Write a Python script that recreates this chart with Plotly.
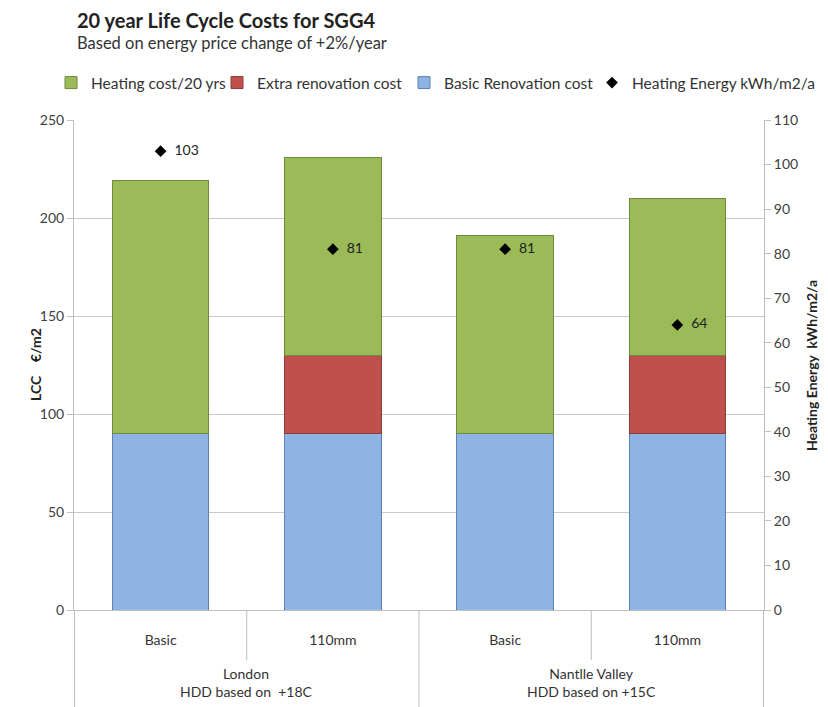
import plotly.graph_objects as go

groups = ["London<br>HDD based on  +18C", "London<br>HDD based on  +18C",
          "Nantlle Valley<br>HDD based on +15C", "Nantlle Valley<br>HDD based on +15C"]
variants = ["Basic", "110mm", "Basic", "110mm"]
basic_cost = [90, 90, 90, 90]
extra_cost = [None, 40, None, 40]
heating_cost = [129, 101, 101, 80]
heating_energy = [103, 81, 81, 64]

FONT = "Lato, 'Open Sans', sans-serif"
keys = [f"{g} | {v}" for g, v in zip(groups, variants)]

fig = go.Figure()
fig.add_trace(go.Bar(x=keys, y=basic_cost, name="Basic Renovation cost", legend="legend3",
                     marker=dict(color="#8DB4E2", line=dict(color="#5E82AE", width=1))))
fig.add_trace(go.Bar(x=keys, y=extra_cost, name="Extra renovation cost", legend="legend2",
                     marker=dict(color="#C0504D", line=dict(color="#8E3A38", width=1))))
fig.add_trace(go.Bar(x=keys, y=heating_cost, name="Heating cost/20 yrs", legend="legend",
                     marker=dict(color="#9BBB59", line=dict(color="#6F8A3C", width=1))))
fig.add_trace(go.Scatter(x=keys, y=heating_energy, name="Heating Energy kWh/m2/a", legend="legend4",
                         yaxis="y2", mode="markers+text",
                         marker=dict(symbol="diamond", size=9, color="black"),
                         text=["  " + str(v) for v in heating_energy], textposition="middle right",
                         textfont=dict(size=14, color="#222222", family=FONT)))

W, H = 828, 707
L, R, T, B = 74, 64, 120, 97
PW, PH = W - L - R, H - T - B

def px_x(p):
    return (p - L) / PW

def px_y(p):
    return (H - B - p) / PH

GRID = "#BFBFBF"
shapes = []
# category dividers below the axis (group boundaries run to the bottom, inner ones shorter)
n = len(keys)
for i in range(n + 1):
    xpos = i - 0.5
    is_group_edge = i == 0 or i == n or groups[i - 1] != groups[i]
    shapes.append(dict(type="line", xref="x", yref="paper", x0=xpos, x1=xpos,
                       y0=0, y1=px_y(707) if is_group_edge else px_y(660),
                       line=dict(color=GRID, width=1)))

annotations = [
    dict(text="<b>20 year Life Cycle Costs for SGG4</b>", xref="paper", yref="paper",
         x=px_x(75), y=px_y(20), xanchor="left", yanchor="middle", showarrow=False,
         font=dict(size=20, color="#222222")),
    dict(text="Based on energy price change of +2%/year", xref="paper", yref="paper",
         x=px_x(75), y=px_y(43), xanchor="left", yanchor="middle", showarrow=False,
         font=dict(size=16.5, color="#333333")),
    dict(text="<b>LCC    €/m2</b>", xref="paper", yref="paper", textangle=-90,
         x=px_x(35), y=0.5, xanchor="center", yanchor="middle", showarrow=False,
         font=dict(size=14, color="#222222")),
    dict(text="<b>Heating Energy  kWh/m2/a</b>", xref="paper", yref="paper", textangle=-90,
         x=px_x(811), y=0.5, xanchor="center", yanchor="middle", showarrow=False,
         font=dict(size=14, color="#222222")),
]
# group labels centred under each group
seen = []
for g in groups:
    if g not in seen:
        seen.append(g)
for g in seen:
    idx = [i for i, gg in enumerate(groups) if gg == g]
    annotations.append(dict(text=g, xref="x", yref="paper", x=sum(idx) / len(idx),
                            y=px_y(682), xanchor="center", yanchor="middle", showarrow=False,
                            font=dict(size=14, color="#333333")))

def legend_at(xpix):
    return dict(orientation="h", xref="container", x=xpix / W, xanchor="left",
                yref="container", y=1 - 83 / H, yanchor="middle",
                font=dict(size=15.5, color="#333333"), itemwidth=30,
                bgcolor="rgba(0,0,0,0)")

fig.update_layout(
    width=W, height=H,
    margin=dict(l=L, r=R, t=T, b=B, autoexpand=False),
    paper_bgcolor="white", plot_bgcolor="white",
    barmode="stack", bargap=0.44,
    font=dict(family=FONT, size=13, color="#404040"),
    legend=legend_at(51), legend2=legend_at(217), legend3=legend_at(404), legend4=legend_at(592),
    showlegend=True,
    xaxis=dict(type="category", tickvals=keys, ticktext=variants, showline=True,
               linecolor=GRID, linewidth=1, ticks="", showgrid=False,
               tickfont=dict(size=14, color="#333333"),
               automargin=False, ticklabelstandoff=17),
    yaxis=dict(range=[0, 250], dtick=50, showgrid=True, gridcolor="#C8C8C8",
               showline=True, linecolor=GRID, ticks="outside", ticklen=6, tickcolor=GRID,
               zeroline=False, tickfont=dict(size=14, color="#404040"), automargin=False),
    yaxis2=dict(range=[0, 110], dtick=10, overlaying="y", side="right", showgrid=False,
                showline=True, linecolor=GRID, ticks="outside", ticklen=6, tickcolor=GRID,
                zeroline=False, tickfont=dict(size=14, color="#404040"), automargin=False),
    shapes=shapes,
    annotations=annotations,
)

fig.write_html("out.html", config={"displayModeBar": False},
               post_script="document.body.style.margin='0';document.body.style.padding='0';")
